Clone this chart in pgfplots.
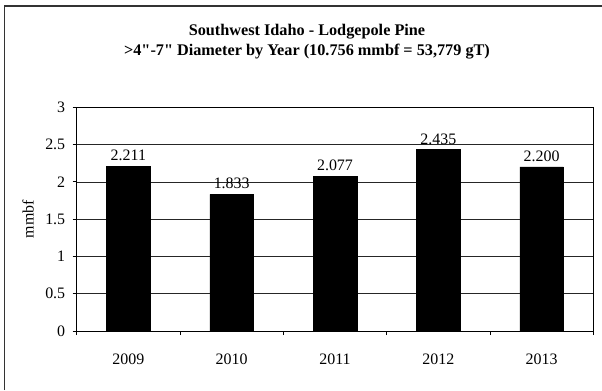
\documentclass[border=0pt]{standalone}
\usepackage{fontspec}
\setmainfont{Liberation Serif}[Ligatures=TeXOff]
\usepackage{pgfplots}
\pgfplotsset{compat=1.18}
\newcommand\tf{\fontsize{16}{18}\selectfont}
\begin{document}
\begin{tikzpicture}[x=1bp,y=1bp]
\useasboundingbox (0,0) rectangle (602,390);
\draw[line width=1.3bp, black!80] (4.5,0) -- (4.5,384) -- (602,384);
\node[font=\fontsize{16.3}{19}\selectfont\bfseries, anchor=base] at (307,355) {Southwest Idaho - Lodgepole Pine};
\node[font=\fontsize{16.3}{19}\selectfont\bfseries, anchor=base] at (307,335) {>4"-7" Diameter by Year (10.756 mmbf = 53,779 gT)};
\begin{axis}[
  at={(76.7bp,59bp)}, anchor=south west,
  scale only axis, width=516.6bp, height=223.7bp,
  xmin=-0.5, xmax=4.5, ymin=0, ymax=3,
  xtick={0,1,2,3,4},
  xticklabels={2009,2010,2011,2012,2013},
  minor xtick={-0.5,0.5,1.5,2.5,3.5,4.5},
  major x tick style={draw=none},
  minor x tick style={black, line width=0.8bp},
  ytick={0,0.5,1,1.5,2,2.5,3},
  tick align=outside,
  major tick length=4bp, minor tick length=4bp,
  ytick pos=left, xtick pos=bottom,
  ymajorgrids,
  grid style={black!85, line width=0.7bp},
  axis line style={black, line width=0.9bp},
  tick style={black, line width=0.8bp},
  /pgf/number format/assume math mode=true,
  ticklabel style={font=\tf},
  xticklabel style={yshift=-15bp},
  yticklabel style={xshift=-4bp},
  ylabel={mmbf},
  ylabel style={font=\tf, at={(axis description cs:-0.094,0.5)}, anchor=center},
  clip=false,
]
\addplot[ybar, bar width=43.5bp, fill=black, draw=black,
  nodes near coords={\pgfmathprintnumber[fixed,fixed zerofill,precision=3,assume math mode=true]{\pgfplotspointmeta}},
  every node near coord/.append style={font=\tf, anchor=south, inner sep=0pt, yshift=5bp, text=black}]
  coordinates {(0,2.211) (1,1.833) (2,2.077) (3,2.435) (4,2.200)};
\end{axis}
\end{tikzpicture}
\end{document}
